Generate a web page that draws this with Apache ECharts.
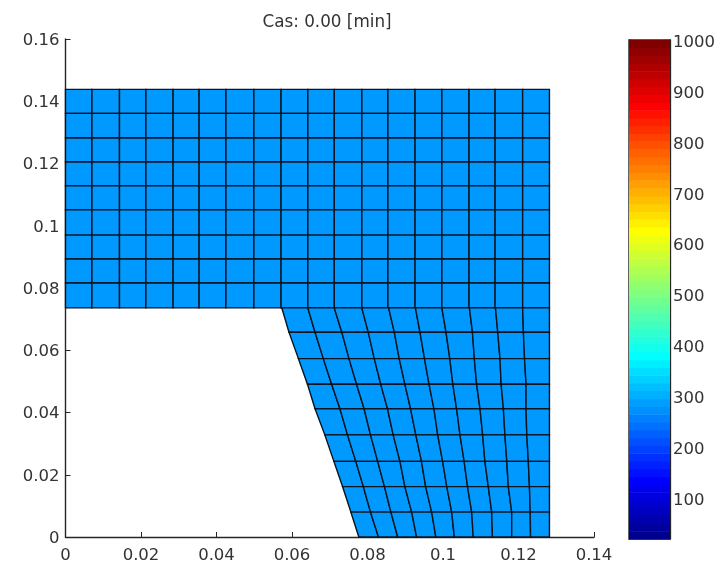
<!DOCTYPE html>
<html><head><meta charset="utf-8">
<style>html,body{margin:0;padding:0;background:#fff}#c{width:720px;height:572px}</style>
<script src="https://cdn.jsdelivr.net/npm/echarts@6/dist/echarts.min.js"></script>
</head><body><div id="c"></div>
<script>
const titleText = 'Cas: 0.00 [min]';
const xTicks = [0, 0.02, 0.04, 0.06, 0.08, 0.1, 0.12, 0.14];
const yTicks = [0, 0.02, 0.04, 0.06, 0.08, 0.1, 0.12, 0.14, 0.16];
const barTicks = [100, 200, 300, 400, 500, 600, 700, 800, 900, 1000];
const barMin = 20, barMax = 1000;
const jetColors = ['#00008f','#00009f','#0000af','#0000bf','#0000cf','#0000df','#0000ef','#0000ff',
'#0010ff','#0020ff','#0030ff','#0040ff','#0050ff','#0060ff','#0070ff','#0080ff','#008fff','#009fff','#00afff','#00bfff','#00cfff','#00dfff','#00efff','#00ffff',
'#10ffef','#20ffdf','#30ffcf','#40ffbf','#50ffaf','#60ff9f','#70ff8f','#80ff80','#8fff70','#9fff60','#afff50','#bfff40','#cfff30','#dfff20','#efff10','#ffff00',
'#ffef00','#ffdf00','#ffcf00','#ffbf00','#ffaf00','#ff9f00','#ff8f00','#ff8000','#ff7000','#ff6000','#ff5000','#ff4000','#ff3000','#ff2000','#ff1000','#ff0000',
'#ef0000','#df0000','#cf0000','#bf0000','#af0000','#9f0000','#8f0000','#800000'];
const meshColor = '#0099ff';

// Upper block of the mesh: a rectangular grid
const upperX = [0, .0070, .0143, .0213, .0285, .0354, .0425, .0499, .0571, .0642, .0712, .0785, .0854, .0926, .0997, .1069, .1138, .1211, .1282];
const upperY = [.1438, .1361, .1282, .1205, .1128, .1051, .0970, .0893, .0816, .0736];

// Lower block: the y of each row and the x of each node on that row
const lowerY = [.0736, .0658, .0573, .0491, .0412, .0328, .0243, .0162, .0080, 0];
const lowerX = [
 [.0573,.0642,.0712,.0785,.0856,.0927,.0997,.1070,.1139,.1211,.1282],
 [.0592,.0661,.0732,.0802,.0871,.0939,.1008,.1078,.1145,.1213,.1282],
 [.0617,.0683,.0751,.0818,.0884,.0951,.1018,.1083,.1151,.1216,.1282],
 [.0641,.0705,.0771,.0835,.0899,.0963,.1026,.1089,.1154,.1220,.1282],
 [.0661,.0727,.0791,.0853,.0914,.0976,.1036,.1098,.1160,.1220,.1282],
 [.0687,.0747,.0808,.0868,.0928,.0986,.1045,.1105,.1164,.1222,.1282],
 [.0711,.0769,.0827,.0886,.0943,.0999,.1056,.1111,.1169,.1226,.1282],
 [.0734,.0789,.0845,.0899,.0954,.1010,.1065,.1120,.1173,.1229,.1282],
 [.0756,.0808,.0862,.0917,.0970,.1023,.1076,.1129,.1182,.1231,.1282],
 [.0777,.0829,.0880,.0930,.0981,.1030,.1080,.1131,.1182,.1232,.1282]
];

const cells = [];
for (let r = 0; r + 1 < upperY.length; r++)
  for (let c = 0; c + 1 < upperX.length; c++)
    cells.push([upperX[c], upperY[r], upperX[c+1], upperY[r], upperX[c+1], upperY[r+1], upperX[c], upperY[r+1]]);
for (let r = 0; r + 1 < lowerY.length; r++)
  for (let c = 0; c + 1 < lowerX[r].length; c++)
    cells.push([lowerX[r][c], lowerY[r], lowerX[r][c+1], lowerY[r], lowerX[r+1][c+1], lowerY[r+1], lowerX[r+1][c], lowerY[r+1]]);

const bands = jetColors.map((col, i) => [barMin + i * (barMax - barMin) / jetColors.length, barMin + (i + 1) * (barMax - barMin) / jetColors.length, i]);

const font = 'DejaVu Sans';
const ink = '#262626', textInk = '#333333', tickSize = 16.5;
const numFmt = v => String(v);
const richFmt = v => '{t|' + v + '}';
const shifted = pad => ({t: {fontFamily: font, fontSize: tickSize, color: textInk, padding: [pad, 0, 0, 0]}});

const chart = echarts.init(document.getElementById('c'), null, {renderer: 'canvas'});
chart.setOption({
  animation: false,
  backgroundColor: '#fff',
  title: {text: titleText, left: 322, top: 9, textAlign: 'center',
    textStyle: {fontFamily: font, fontWeight: 'normal', fontSize: 16.8, color: textInk}},
  grid: [
    {left: 65.5, top: 39, width: 528.5, height: 498, containLabel: false},
    {left: 629, top: 40, width: 41, height: 499, show: true, borderColor: ink, borderWidth: 1.3, backgroundColor: 'transparent'}
  ],
  xAxis: [
    {type: 'value', gridIndex: 0, min: 0, max: 0.14, interval: 0.02, splitLine: {show: false},
      axisLine: {show: true, onZero: false, lineStyle: {color: ink, width: 1.4}},
      axisTick: {show: true, inside: true, length: 5, lineStyle: {color: ink}},
      axisLabel: {fontFamily: font, fontSize: tickSize, color: textInk, margin: 10, formatter: numFmt, showMinLabel: true, showMaxLabel: true}},
    {type: 'value', gridIndex: 1, min: 0, max: 1, show: false}
  ],
  yAxis: [
    {type: 'value', gridIndex: 0, min: 0, max: 0.16, interval: 0.02, splitLine: {show: false},
      axisLine: {show: true, onZero: false, lineStyle: {color: ink, width: 1.4}},
      axisTick: {show: true, inside: true, length: 5, lineStyle: {color: ink}},
      axisLabel: {margin: 6, formatter: richFmt, rich: shifted(3), showMinLabel: true, showMaxLabel: true}},
    {type: 'value', gridIndex: 1, position: 'right', min: barMin, max: barMax, splitLine: {show: false},
      axisLine: {show: true, onZero: false, lineStyle: {color: ink, width: 1.3}},
      axisTick: {show: true, inside: true, length: 6, customValues: barTicks, lineStyle: {color: ink, width: 1.3}},
      axisLabel: {margin: 3, customValues: barTicks, formatter: richFmt, rich: shifted(5)}},
    {type: 'value', gridIndex: 1, position: 'left', min: barMin, max: barMax, splitLine: {show: false},
      axisLine: {show: true, onZero: false, lineStyle: {color: ink, width: 1.3}},
      axisTick: {show: true, inside: true, length: 4, customValues: barTicks, lineStyle: {color: ink, width: 1.3}},
      axisLabel: {show: false}}
  ],
  series: [
    {type: 'custom', xAxisIndex: 0, yAxisIndex: 0, coordinateSystem: 'cartesian2d', clip: false, silent: true,
      encode: {x: [0, 2, 4, 6], y: [1, 3, 5, 7]},
      data: cells,
      renderItem(params, api) {
        const pts = [0, 2, 4, 6].map(k => api.coord([api.value(k), api.value(k + 1)]));
        return {type: 'polygon', shape: {points: pts},
          style: {fill: meshColor, stroke: '#0a1420', lineWidth: 1.4}};
      }},
    {type: 'custom', xAxisIndex: 1, yAxisIndex: 1, coordinateSystem: 'cartesian2d', silent: true, z: 1,
      encode: {y: [0, 1]},
      data: bands,
      renderItem(params, api) {
        const lo = api.coord([0, api.value(0)]), hi = api.coord([1, api.value(1)]);
        return {type: 'rect', shape: {x: lo[0], y: hi[1], width: hi[0] - lo[0], height: lo[1] - hi[1] + 0.5},
          style: {fill: jetColors[api.value(2)]}};
      }}
  ]
});
</script></body></html>
